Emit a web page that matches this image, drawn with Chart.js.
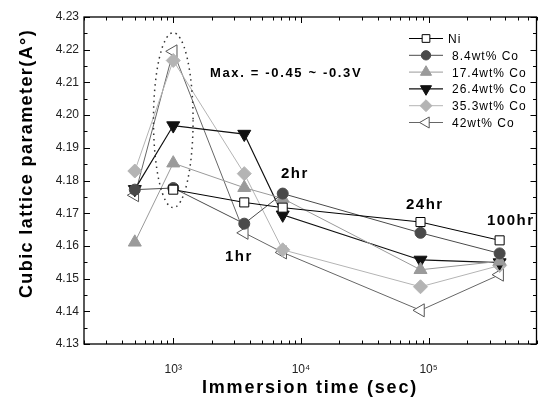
<!DOCTYPE html>
<html><head><meta charset="utf-8">
<script src="https://cdn.jsdelivr.net/npm/chart.js@4/dist/chart.umd.min.js"></script>
<style>html,body{margin:0;padding:0;background:#fff}#wrap{width:545px;height:401px}</style>
</head><body><div id="wrap"><canvas id="c" width="545" height="401"></canvas></div>
<script>
// ---- data ----
const times = [500, 1000, 3600, 7200, 86400, 360000];
const seriesNames = ['Ni', '8.4wt% Co', '17.4wt% Co', '26.4wt% Co', '35.3wt% Co', '42wt% Co'];
const ni    = [null,   4.1772, 4.1733, 4.1717, 4.1673, 4.1617];
const co84  = [4.1772, 4.1777, 4.1668, 4.1760, 4.1640, 4.1577];
const co174 = [4.1611, 4.1853, 4.1778, 4.1745, 4.1527, 4.1553];
const co264 = [4.1773, 4.1968, 4.1942, 4.1695, 4.1557, 4.1549];
const co353 = [4.1829, 4.2167, 4.1821, 4.1588, 4.1475, 4.1540];
const co42  = [4.1755, 4.2195, 4.1640, 4.1580, 4.1403, 4.1512];
const yTicks = [4.13, 4.14, 4.15, 4.16, 4.17, 4.18, 4.19, 4.20, 4.21, 4.22, 4.23];
const xTicks = [1000, 10000, 100000];
const xTickLabels = ['10\u00B3', '10\u2074', '10\u2075'];
const xTitle = 'Immersion time (sec)';
const yTitle = 'Cubic lattice parameter(A\u00B0)';
const noteMax = 'Max. = -0.45 ~ -0.3V';
const timeNotes = ['1hr', '2hr', '24hr', '100hr'];

// ---- styles ----
const styles = [
  {line:'#000000', fill:'#ffffff', border:'#000000', shape:'rect', r:6.4, rot:0, lw:1},
  {line:'#4a4a4a', fill:'#4a4a4a', border:'#4a4a4a', shape:'circle', r:5.5, rot:0, lw:1},
  {line:'#9a9a9a', fill:'#9a9a9a', border:'#9a9a9a', shape:'triangle', r:7.5, rot:0, lw:1},
  {line:'#111111', fill:'#111111', border:'#111111', shape:'triangle', r:7.5, rot:180, lw:1.2},
  {line:'#b4b4b4', fill:'#b4b4b4', border:'#b4b4b4', shape:'rectRot', r:7, rot:0, lw:1},
  {line:'#666666', fill:'#ffffff', border:'#555555', shape:'triangle', r:7.5, rot:270, lw:1}
];
const allSeries = [ni, co84, co174, co264, co353, co42];

const datasets = allSeries.map((vals, k) => {
  const s = styles[k];
  return {
    label: seriesNames[k],
    data: times.map((t, i) => ({x: t, y: vals[i]})).filter(p => p.y !== null),
    borderColor: s.line, backgroundColor: s.fill, borderWidth: s.lw,
    pointStyle: s.shape, pointRadius: s.r, pointRotation: s.rot,
    pointBackgroundColor: s.fill, pointBorderColor: s.border, pointBorderWidth: 1,
    tension: 0, fill: false
  };
});

function drawMarker(ctx, s, x, y, scale) {
  ctx.save();
  ctx.fillStyle = s.fill; ctx.strokeStyle = s.border; ctx.lineWidth = 1;
  Chart.helpers.drawPoint(ctx, {pointStyle: s.shape, radius: s.r * scale, rotation: s.rot, borderWidth: 1}, x, y);
  ctx.restore();
}

function spacedText(ctx, txt, x, y, font, spacing, align) {
  ctx.save();
  ctx.font = font; ctx.fillStyle = '#000';
  ctx.letterSpacing = spacing + 'px';
  ctx.textAlign = align || 'left'; ctx.textBaseline = 'alphabetic';
  ctx.fillText(txt, x, y);
  ctx.restore();
}

const deco = {
  id: 'deco',
  beforeDatasetsDraw(chart) {
    const {ctx, chartArea: a, scales: {x, y}} = chart;
    ctx.save();
    ctx.strokeStyle = '#000'; ctx.lineWidth = 1.3;
    ctx.strokeRect(a.left, a.top, a.right - a.left, a.bottom - a.top);
    ctx.lineWidth = 1;
    ctx.beginPath();
    // x ticks (inward, top & bottom)
    for (let e = 2; e <= 5; e++) {
      for (let d = 1; d <= 9; d++) {
        const v = d * Math.pow(10, e);
        if (v < x.min || v > x.max) continue;
        const px = Math.round(x.getPixelForValue(v)) + 0.5;
        const len = d === 1 ? 6 : 3.5;
        ctx.moveTo(px, a.bottom); ctx.lineTo(px, a.bottom - len);
        ctx.moveTo(px, a.top); ctx.lineTo(px, a.top + len);
      }
    }
    // y ticks (inward, left & right)
    for (let i = 0; i < yTicks.length; i++) {
      const vals = [[yTicks[i], 6]];
      if (i < yTicks.length - 1) vals.push([(yTicks[i] + yTicks[i + 1]) / 2, 3.5]);
      for (const [v, len] of vals) {
        const py = Math.round(y.getPixelForValue(v)) + 0.5;
        ctx.moveTo(a.left, py); ctx.lineTo(a.left + len, py);
        ctx.moveTo(a.right, py); ctx.lineTo(a.right - len, py);
      }
    }
    ctx.stroke();
    ctx.restore();
  },
  afterDatasetsDraw(chart) {
    const {ctx, scales: {x, y}} = chart;
    // dotted ellipse around the 1000 s maxima
    const x0 = x.getPixelForValue(700), x1 = x.getPixelForValue(1430);
    const y0 = y.getPixelForValue(4.2252), y1 = y.getPixelForValue(4.1717);
    ctx.save();
    ctx.strokeStyle = '#333'; ctx.lineWidth = 1.5; ctx.setLineDash([1.5, 4]);
    ctx.beginPath();
    ctx.ellipse((x0 + x1) / 2, (y0 + y1) / 2, (x1 - x0) / 2, (y1 - y0) / 2, 0, 0, Math.PI * 2);
    ctx.stroke();
    ctx.restore();

    // annotations
    spacedText(ctx, noteMax, 210, 77, 'bold 13px "Liberation Sans", Arial, sans-serif', 1.65);
    const notePos = [[225, 261], [281, 178], [406, 209], [487, 225]];
    timeNotes.forEach((t, i) => spacedText(ctx, t, notePos[i][0], notePos[i][1], 'bold 15px "Liberation Sans", Arial, sans-serif', 1.5));

    // legend
    for (let k = 0; k < seriesNames.length; k++) {
      const s = styles[k];
      const ly = 38.5 + k * 16.8;
      ctx.save();
      ctx.strokeStyle = s.line; ctx.lineWidth = s.lw;
      ctx.beginPath(); ctx.moveTo(409, ly); ctx.lineTo(443, ly); ctx.stroke();
      ctx.restore();
      drawMarker(ctx, s, 426, ly, 0.85);
      spacedText(ctx, seriesNames[k], k === 0 ? 448 : 452, ly + 4.5, '12px "Liberation Sans", Arial, sans-serif', 1.0);
    }

    // axis titles
    spacedText(ctx, xTitle, 310, 393, 'bold 18px "Liberation Sans", Arial, sans-serif', 1.8, 'center');
    ctx.save();
    ctx.translate(31.5, 163.5); ctx.rotate(-Math.PI / 2);
    spacedText(ctx, yTitle, 0, 0, 'bold 18px "Liberation Sans", Arial, sans-serif', 1.4, 'center');
    ctx.restore();
  }
};

new Chart(document.getElementById('c'), {
  type: 'line',
  data: {datasets},
  options: {
    responsive: false, animation: false, devicePixelRatio: 1,
    layout: {padding: {top: 17, right: 8, left: 0, bottom: 0}},
    plugins: {legend: {display: false}, tooltip: {enabled: false}, title: {display: false}},
    scales: {
      x: {
        type: 'logarithmic', min: 200, max: 700000,
        grid: {display: false, drawTicks: false}, border: {display: false},
        afterBuildTicks: s => { s.ticks = xTicks.map(v => ({value: v, major: true})); },
        afterFit: s => { s.height = 57; },
        ticks: {
          autoSkip: false, maxRotation: 0, padding: 18, color: '#222',
          font: {family: '"Liberation Sans", Arial, sans-serif', size: 12},
          callback: (v) => { const i = xTicks.indexOf(v); return i >= 0 ? xTickLabels[i] : ''; }
        }
      },
      y: {
        min: 4.13, max: 4.23,
        grid: {display: false, drawTicks: false}, border: {display: false},
        afterBuildTicks: s => { s.ticks = yTicks.map(v => ({value: v})); },
        afterFit: s => { s.width = 84; },
        ticks: {
          padding: 5, color: '#222',
          font: {family: '"Liberation Sans", Arial, sans-serif', size: 12},
          callback: v => Number(v).toFixed(2)
        }
      }
    }
  },
  plugins: [deco]
});
</script></body></html>
